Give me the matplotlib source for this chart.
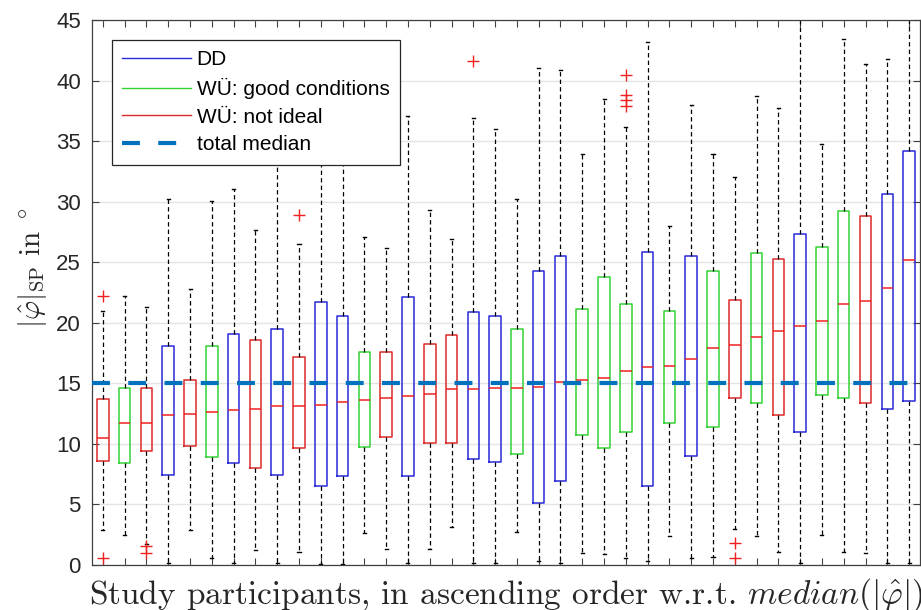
import numpy as np
import matplotlib
matplotlib.use("Agg")
import matplotlib.pyplot as plt
from matplotlib.lines import Line2D

plt.rcParams['mathtext.fontset'] = 'cm'
plt.rcParams['font.family'] = ['Liberation Sans', 'DejaVu Sans']

# participant group: B = DD, G = WÜ good conditions, R = WÜ not ideal
group = ['R', 'G', 'R', 'B', 'R', 'G', 'B', 'R', 'B', 'R',
         'B', 'B', 'G', 'R', 'B', 'R', 'R', 'B', 'B', 'G',
         'B', 'B', 'G', 'G', 'G', 'B', 'G', 'B', 'G', 'R',
         'G', 'R', 'B', 'G', 'G', 'R', 'B', 'B']

q1 = [8.55, 8.45, 9.45, 7.4, 9.85, 8.9, 8.45, 8.0, 7.45, 9.65,
      6.5, 7.35, 9.75, 10.6, 7.35, 10.05, 10.1, 8.75, 8.5, 9.15,
      5.1, 6.95, 10.75, 9.7, 10.95, 6.5, 11.7, 9.0, 11.4, 13.8,
      13.35, 12.4, 10.95, 14.0, 13.8, 13.35, 12.85, 13.5]
med = [10.45, 11.75, 11.75, 12.4, 12.5, 12.6, 12.8, 12.85, 13.1, 13.15,
       13.25, 13.45, 13.65, 13.8, 13.95, 14.15, 14.55, 14.55, 14.6, 14.65,
       14.7, 15.1, 15.3, 15.45, 16.05, 16.35, 16.45, 17.0, 17.95, 18.2,
       18.8, 19.3, 19.7, 20.15, 21.55, 21.8, 22.85, 25.2]
q3 = [13.7, 14.65, 14.65, 18.05, 15.3, 18.05, 19.1, 18.55, 19.45, 17.15,
      21.7, 20.6, 17.55, 17.6, 22.1, 18.25, 19.0, 20.9, 20.6, 19.45,
      24.25, 25.5, 21.1, 23.75, 21.55, 25.85, 20.95, 25.55, 24.25, 21.85,
      25.75, 25.3, 27.35, 26.25, 29.25, 28.85, 30.65, 34.2]
whis_lo = [2.85, 2.45, 1.75, 0.2, 2.9, 0.55, 0.2, 1.25, 0.2, 1.1,
           0.1, 0.1, 2.6, 1.3, 0.15, 1.3, 3.15, 0.15, 0.15, 2.75,
           0.35, 0.15, 0.95, 0.9, 0.6, 0.3, 2.4, 0.55, 0.65, 2.95,
           2.4, 1.05, 0.15, 2.5, 1.1, 0.95, 0.2, 0.15]
whis_hi = [20.95, 22.2, 21.3, 30.2, 22.75, 30.05, 31.05, 27.7, 36.0, 26.5,
           38.0, 35.0, 27.05, 26.2, 37.1, 29.3, 26.9, 36.9, 36.0, 30.2,
           41.0, 40.9, 33.9, 38.45, 36.2, 43.2, 28.0, 38.0, 33.9, 32.0,
           38.7, 37.7, 47.0, 34.8, 43.4, 41.4, 41.8, 47.0]
outliers = [[22.2, 0.55], [], [1.6, 0.95], [], [], [], [], [], [], [28.9],
            [], [], [], [], [], [], [], [41.6], [], [],
            [], [], [], [], [40.5, 38.8, 38.4, 37.9], [], [], [], [], [1.8, 0.6],
            [], [], [], [], [], [], [], []]
total_median = 15.0

group_colors = {'B': '#2a2ad8', 'G': '#34d234', 'R': '#dc2a2a'}
group_labels = {'B': 'DD', 'G': 'WÜ: good conditions', 'R': 'WÜ: not ideal'}

n = len(med)
positions = np.arange(1, n + 1)
stats = [dict(med=med[i], q1=q1[i], q3=q3[i], whislo=whis_lo[i],
              whishi=whis_hi[i], fliers=outliers[i]) for i in range(n)]

fig = plt.figure(figsize=(9.21, 6.10), dpi=100)
ax = fig.add_axes([0.0999, 0.0738, 0.8990, 0.8934])

ax.yaxis.grid(True, color='#e4e4e4', linewidth=1.0, zorder=0)
ax.set_axisbelow(True)

bp = ax.bxp(stats, positions=positions, widths=0.53, capwidths=0.14,
            patch_artist=False,
            boxprops=dict(linewidth=1.1),
            medianprops=dict(color='#f02020', linewidth=1.1),
            whiskerprops=dict(color='black', linewidth=0.9, linestyle=(0, (3.5, 2.5))),
            capprops=dict(color='black', linewidth=1.0),
            flierprops=dict(marker='+', markeredgecolor='#f02020',
                            markersize=9, markeredgewidth=1.0, linestyle='none'))
for i, box in enumerate(bp['boxes']):
    box.set_color(group_colors[group[i]])

ax.plot([0.5, n + 0.5], [total_median, total_median], color='#0072bd',
        linewidth=3.0, dashes=(4.3, 4.4), zorder=5)

ax.set_xlim(0.5, n + 0.5)
ax.set_ylim(0, 45)
ax.set_yticks(np.arange(0, 46, 5))
ax.set_xticks(positions)
ax.set_xticklabels([])
ax.tick_params(axis='both', direction='in', top=True, right=True,
               length=5, width=0.8, colors='#404040', labelcolor='#262626',
               labelsize=16, pad=8)
for sp in ax.spines.values():
    sp.set_color('#404040')
    sp.set_linewidth(0.9)

ax.set_xlabel(r'Study participants, in ascending order w.r.t. $median(|\hat{\varphi}|)$',
              fontfamily='cmr10', fontsize=24, color='#262626', labelpad=0)
ax.set_ylabel(r'$|\hat{\varphi}|_{\mathrm{SP}}\ \mathrm{in}\ ^\circ$',
              fontsize=21, color='#262626')
ax.yaxis.set_label_coords(-0.052, 0.545)

handles = [Line2D([], [], color=group_colors[k], linewidth=1.0) for k in ['B', 'G', 'R']]
handles.append(Line2D([], [], color='#0072bd', linewidth=3.0, dashes=(4.3, 4.4)))
labels = [group_labels[k] for k in ['B', 'G', 'R']] + ['total median']
leg = ax.legend(handles, labels, loc='upper left', bbox_to_anchor=(0.024, 0.964),
                borderaxespad=0, fontsize=15, handlelength=3.3, handletextpad=0.27,
                labelspacing=0.42, fancybox=False, framealpha=1, borderpad=0.5)
leg.get_frame().set_edgecolor('#262626')
leg.get_frame().set_linewidth(0.9)

fig.savefig('out.png', dpi=100)
